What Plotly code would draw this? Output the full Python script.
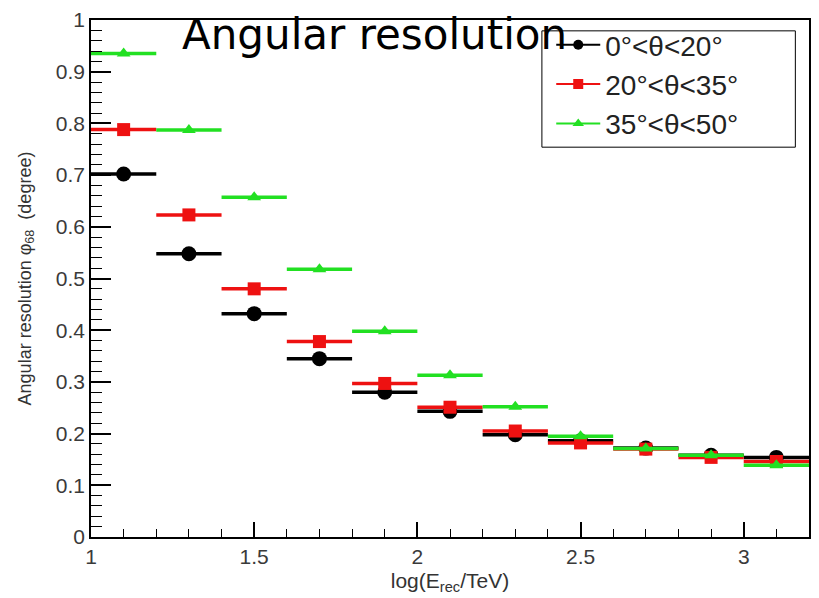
import plotly.graph_objects as go

# Energy bins in log10(E_rec/TeV): centres and half-widths
bin_centers = [1.1, 1.3, 1.5, 1.7, 1.9, 2.1, 2.3, 2.5, 2.7, 2.9, 3.1]
bin_halfwidth = [0.1] * len(bin_centers)

# Angular resolution (degree) for three zenith-angle ranges
res_0_20 = [0.702, 0.548, 0.432, 0.345, 0.280, 0.243, 0.198, 0.186, 0.172, 0.158, 0.154]
res_20_35 = [0.788, 0.623, 0.480, 0.378, 0.297, 0.251, 0.205, 0.182, 0.170, 0.154, 0.146]
res_35_50 = [0.935, 0.787, 0.657, 0.518, 0.398, 0.313, 0.252, 0.195, 0.171, 0.158, 0.139]

labels = ["0°<θ<20°", "20°<θ<35°", "35°<θ<50°"]
colors = ["#000000", "#ee1111", "#22e022"]
symbols = ["circle", "square", "triangle-up"]
sizes = [15, 13, 12]
series = [res_0_20, res_20_35, res_35_50]

fig = go.Figure()

for vals, name, col, sym, sz in zip(series, labels, colors, symbols, sizes):
    fig.add_trace(go.Scatter(
        x=bin_centers, y=vals, mode="markers", showlegend=False,
        marker=dict(color=col, symbol=sym, size=sz),
        error_x=dict(type="data", array=bin_halfwidth, color=col, thickness=3.5, width=0),
    ))

# Legend entries: marker with a horizontal line
for name, col, sym in zip(labels, colors, symbols):
    fig.add_trace(go.Scatter(
        x=[None], y=[None], mode="lines+markers", name=name,
        line=dict(color=col, width=2),
        marker=dict(color=col, symbol=sym, size=10),
    ))

# Framed white box behind the legend entries
fig.add_shape(
    type="rect", xref="paper", yref="paper",
    x0=0.628, x1=0.981, y0=0.754, y1=0.979,
    line=dict(color="black", width=1), fillcolor="white", layer="above",
)

fig.add_annotation(
    text="Angular resolution", xref="paper", yref="paper",
    x=0.124, y=0.972, xanchor="left", yanchor="middle", showarrow=False,
    font=dict(family="DejaVu Sans", size=42, color="black"),
)

axis_font = dict(family="Liberation Sans, Arial", size=21, color="#3a3a3a")

fig.update_layout(
    width=819, height=598,
    margin=dict(l=91, r=8, t=17, b=61),
    paper_bgcolor="white", plot_bgcolor="white",
    font=dict(family="Liberation Sans, Arial", color="#222222"),
    legend=dict(
        x=0.641, y=1.0, xanchor="left", yanchor="top",
        bgcolor="rgba(0,0,0,0)", borderwidth=0,
        font=dict(family="Liberation Sans, Arial", size=28, color="#222222"),
        itemwidth=44,
    ),
    xaxis=dict(
        range=[1, 3.2], showgrid=False, zeroline=False,
        showline=True, linecolor="black", linewidth=1.5, mirror=True,
        ticks="inside", ticklen=15, tickwidth=1.5, tickcolor="black",
        tick0=1, dtick=0.5, tickfont=axis_font,
        minor=dict(ticks="inside", ticklen=8, tickwidth=1.2, tickcolor="black", dtick=0.1),
        title=dict(text="log(E<sub>rec</sub>/TeV)", font=dict(size=21, color="#333333"), standoff=6),
    ),
    yaxis=dict(
        range=[0, 1], showgrid=False, zeroline=False,
        showline=True, linecolor="black", linewidth=1.5, mirror=True,
        ticks="inside", ticklen=20, tickwidth=1.5, tickcolor="black",
        tick0=0, dtick=0.1, tickfont=axis_font,
        minor=dict(ticks="inside", ticklen=11, tickwidth=1.2, tickcolor="black", dtick=0.02),
        title=dict(text="Angular resolution φ<sub>68</sub>  (degree)", font=dict(size=18, color="#333333"), standoff=20),
    ),
)

fig.write_html("out.html")
